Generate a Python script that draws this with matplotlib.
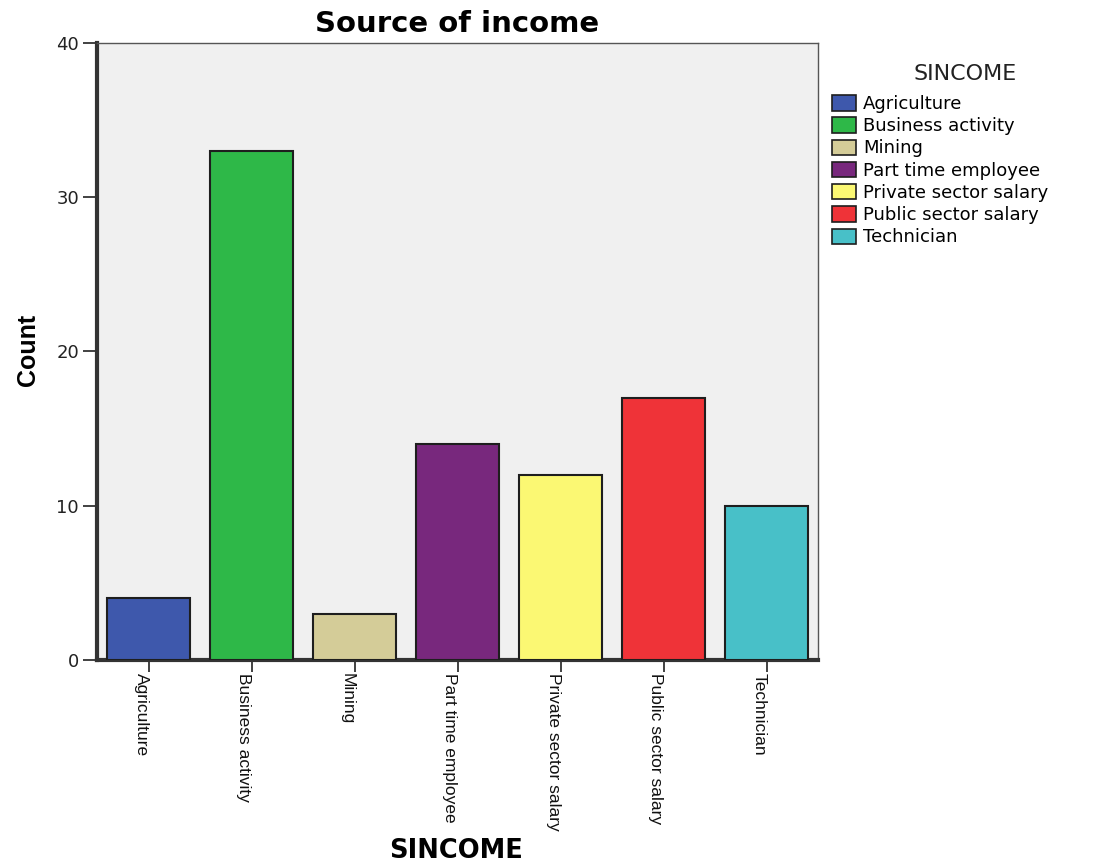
import matplotlib
matplotlib.use("Agg")
import matplotlib.pyplot as plt
from matplotlib.patches import Patch

categories = ["Agriculture", "Business activity", "Mining", "Part time employee",
              "Private sector salary", "Public sector salary", "Technician"]
counts = [4, 33, 3, 14, 12, 17, 10]
colors = ["#3e58ac", "#2eb848", "#d4cc98", "#78287d", "#fbf873", "#ef3338", "#48c0c8"]
yticks = [0, 10, 20, 30, 40]

W, H = 1101, 863
fig = plt.figure(figsize=(W / 100, H / 100), dpi=100)
ax = fig.add_axes([97 / W, 1 - 660 / H, 721 / W, 617 / H])
ax.set_facecolor("#f0f0f0")

x = list(range(len(categories)))
ax.bar(x, counts, width=0.81, color=colors, edgecolor="#1e1e1e", linewidth=1.5, zorder=3)

ax.set_xlim(-0.5, len(categories) - 0.5)
ax.set_ylim(0, 40)
ax.set_yticks(yticks)
ax.set_yticklabels([str(v) for v in yticks], fontsize=13, family="DejaVu Sans", color="#222222")
ax.set_xticks(x)
ax.set_xticklabels(categories, fontsize=12.5, family="Liberation Sans", color="#111111")
for lbl in ax.get_xticklabels():
    lbl.set_rotation(270)
    lbl.set_rotation_mode("anchor")
    lbl.set_ha("left")
    lbl.set_va("top")
ax.tick_params(axis="y", direction="out", length=10, width=1.3, color="#333333", pad=3)
ax.tick_params(axis="x", direction="out", length=8.5, width=1.3, color="#333333", pad=0.5)

for side in ["left", "bottom"]:
    ax.spines[side].set_linewidth(3)
    ax.spines[side].set_color("#333333")
for side in ["top", "right"]:
    ax.spines[side].set_linewidth(1)
    ax.spines[side].set_color("#555555")

# title and axis titles
fig.text(457 / W, 1 - 32 / H, "Source of income", fontsize=21, fontweight="bold",
         family="DejaVu Sans", ha="center", va="baseline")
fig.text(35 / W, 1 - 350 / H, "Count", fontsize=18, fontweight="bold",
         family="Liberation Sans", rotation=90, rotation_mode="anchor",
         ha="center", va="baseline")
fig.text(456 / W, 1 - 858 / H, "SINCOME", fontsize=18.5, fontweight="bold",
         family="DejaVu Sans", ha="center", va="baseline")

# legend
fig.text(965 / W, 1 - 80 / H, "SINCOME", fontsize=16, family="DejaVu Sans",
         color="#222222", ha="center", va="baseline")
handles = [Patch(facecolor=c, edgecolor="#1e1e1e", linewidth=1.2) for c in colors]
fig.legend(handles, categories, loc="upper left",
           bbox_to_anchor=(832 / W, 1 - 95 / H), frameon=False,
           prop={"family": "DejaVu Sans", "size": 13},
           handlelength=1.33, handleheight=0.94, handletextpad=0.4,
           labelspacing=0.235, borderaxespad=0, borderpad=0)

fig.savefig("out.png", dpi=100, facecolor="white")
